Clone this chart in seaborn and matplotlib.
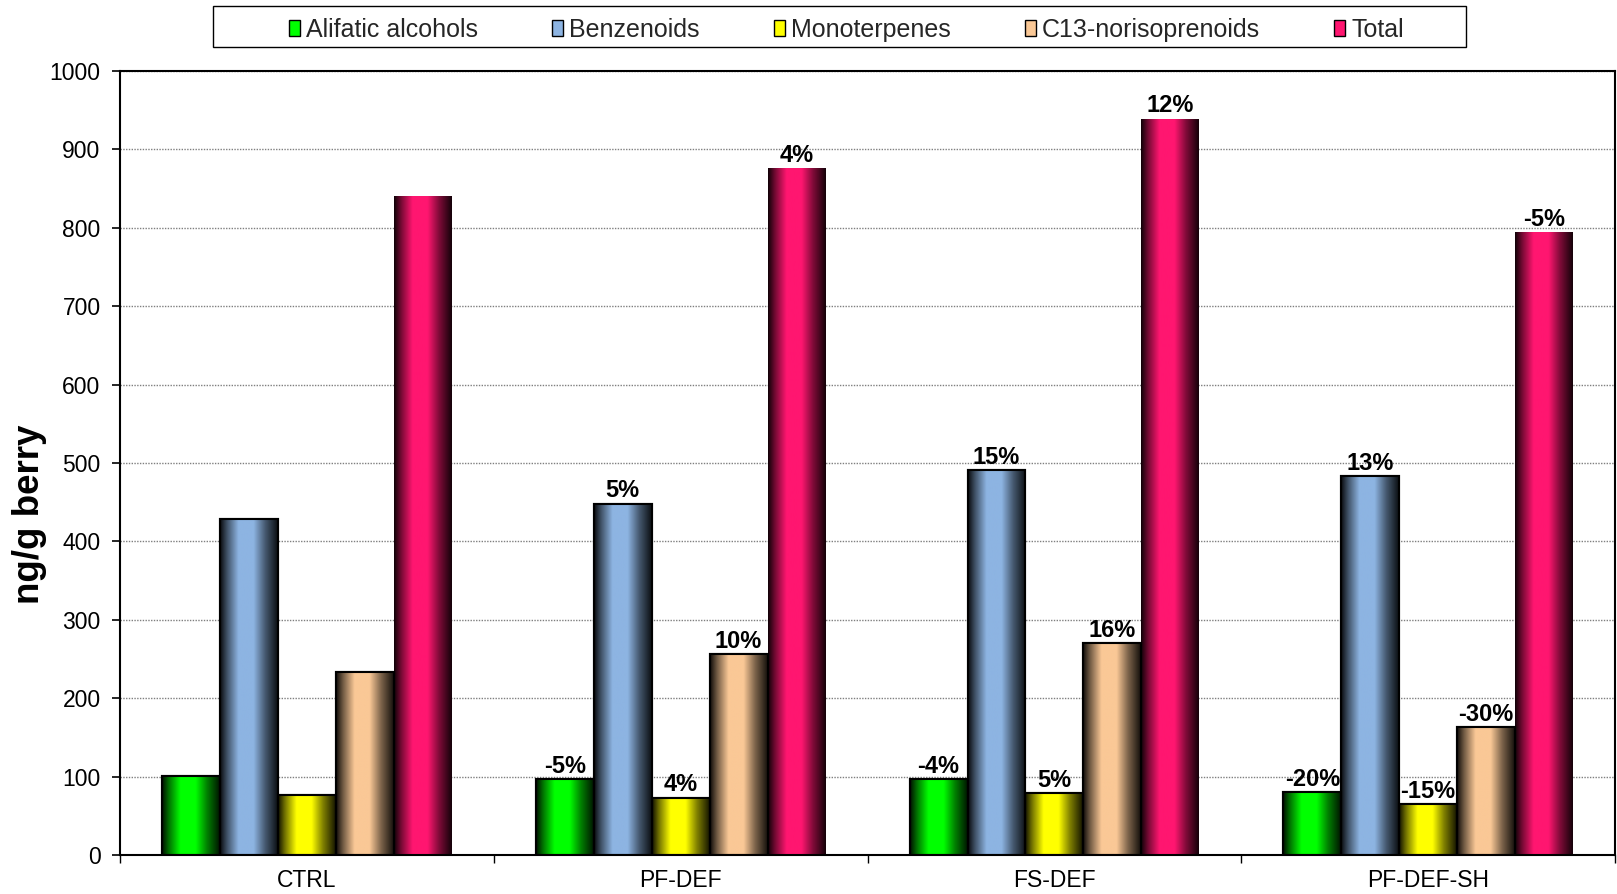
import numpy as np
import pandas as pd
import matplotlib
matplotlib.use("Agg")
import matplotlib.pyplot as plt
import seaborn as sns
from matplotlib.patches import Rectangle, Patch
from matplotlib.colors import to_rgb

# ---------------- data ----------------
treatments = ["CTRL", "PF-DEF", "FS-DEF", "PF-DEF-SH"]
compounds = ["Alifatic alcohols", "Benzenoids", "Monoterpenes", "C13-norisoprenoids", "Total"]

alifatic = [101, 97, 97, 80]
benzenoids = [428, 448, 491, 483]
monoterpenes = [76, 73, 79, 65]
c13 = [233, 256, 270, 163]
total = [840, 876, 939, 794]

alifatic_pct = ["", "-5%", "-4%", "-20%"]
benzenoids_pct = ["", "5%", "15%", "13%"]
monoterpenes_pct = ["", "4%", "5%", "-15%"]
c13_pct = ["", "10%", "16%", "-30%"]
total_pct = ["", "4%", "12%", "-5%"]

colors = ["#00FF00", "#8DB4E2", "#FFFF00", "#FAC896", "#FF1670"]
ylabel = "ng/g berry"

series = [alifatic, benzenoids, monoterpenes, c13, total]
pcts = [alifatic_pct, benzenoids_pct, monoterpenes_pct, c13_pct, total_pct]

rows = []
for comp, vals in zip(compounds, series):
    for t, v in zip(treatments, vals):
        rows.append({"treatment": t, "compound": comp, "value": v})
df = pd.DataFrame(rows)

# ---------------- style ----------------
sns.set_theme(style="white")
plt.rcParams["font.family"] = ["Liberation Sans", "DejaVu Sans"]

fig = plt.figure(figsize=(16.17, 8.94), dpi=100)
ax = fig.add_axes([0.0742, 0.0436, 0.9246, 0.877])

sns.barplot(data=df, x="treatment", y="value", hue="compound",
            order=treatments, hue_order=compounds, palette=colors,
            saturation=1, width=0.775, gap=0, errorbar=None,
            edgecolor="black", linewidth=1.5, legend=False, ax=ax)

ax.set_xlim(-0.5, 3.5)
ax.set_ylim(0, 1000)
ax.set_yticks(np.arange(0, 1001, 100))
ax.set_axisbelow(True)
ax.yaxis.grid(True, linestyle=(0, (1, 1)), color="#7f7f7f", linewidth=1.0)
ax.xaxis.grid(False)

# gradient shading profile (dark edges, bright centre)
prof_x = [0.0, 0.12, 0.32, 0.58, 0.78, 1.0]
prof_y = [0.06, 0.45, 1.0, 1.0, 0.5, 0.08]
xs = np.linspace(0, 1, 200)
prof = np.interp(xs, prof_x, prof_y)

for ci, (cont, labs) in enumerate(zip(ax.containers, pcts)):
    base = np.array(to_rgb(colors[ci]))
    grad = (base[None, None, :] * prof[None, :, None])
    for bar, lab in zip(cont, labs):
        x0 = bar.get_x(); w = bar.get_width(); h = bar.get_height()
        im = ax.imshow(grad, extent=[x0, x0 + w, 0, h], aspect="auto",
                       interpolation="bilinear", zorder=bar.get_zorder() + 0.1)
        im.set_clip_path(bar)
        if ci < 4:
            ax.add_patch(Rectangle((x0, 0), w, h, fill=False, edgecolor="black",
                                   linewidth=1.5, zorder=bar.get_zorder() + 0.2))
        else:
            bar.set_edgecolor("none")
        if lab:
            ax.annotate(lab, (x0 + w / 2, h), xytext=(0, 1), textcoords="offset points",
                        ha="center", va="bottom", fontsize=17, fontweight="bold",
                        color="black", zorder=5)

ax.set_xlim(-0.5, 3.5)
ax.set_ylim(0, 1000)

# spines
for s in ax.spines.values():
    s.set_visible(True)
    s.set_color("black")
    s.set_linewidth(1.5)

# ticks
ax.set_xlabel("")
ax.set_xticks(range(len(treatments)))
ax.set_xticklabels(treatments)
ax.set_xticks(np.arange(-0.5, 3.6, 1.0), minor=True)
ax.tick_params(axis="x", which="major", length=0, pad=10, labelsize=16.5, colors="black")
ax.tick_params(axis="x", which="minor", length=6, width=1, color="black", direction="out", bottom=True)
ax.tick_params(axis="y", which="major", length=6, width=1.2, color="black", direction="out",
               left=True, pad=8, labelsize=16.5, labelcolor="black")

ax.set_ylabel(ylabel, fontsize=26.5, fontweight="bold", color="black")
ax.yaxis.set_label_coords(-0.049, 0.434)

# legend
handles = [Patch(facecolor=c, edgecolor="black", linewidth=1.0) for c in colors]
fig.legend(handles, compounds, loc="center", bbox_to_anchor=(0.5234, 0.967),
           ncol=5, frameon=False, fontsize=18, handlelength=0.45, handleheight=0.6,
           handletextpad=0.25, columnspacing=2.95, borderpad=0)
fig.add_artist(Rectangle((0.1317, 0.9474), 0.775, 0.0459, transform=fig.transFigure,
                         fill=False, edgecolor="black", linewidth=1.0))

fig.savefig("out.png", dpi=100)
